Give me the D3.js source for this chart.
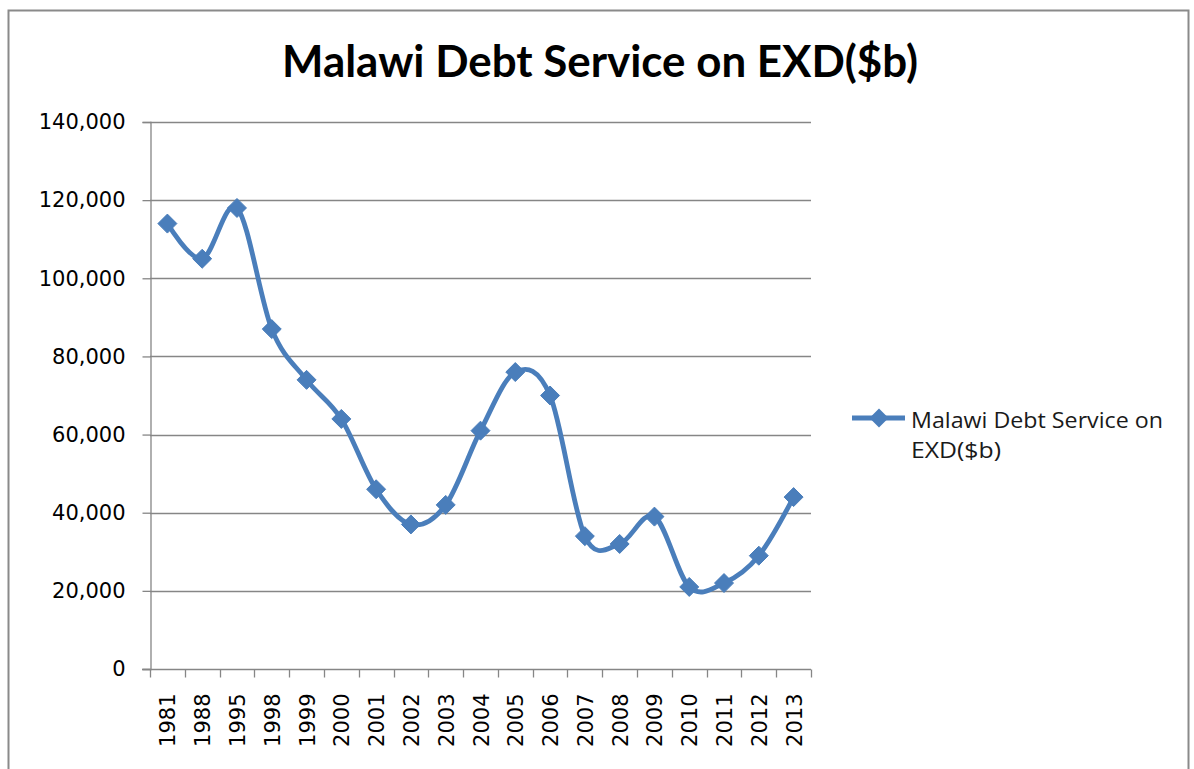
<!DOCTYPE html>
<html>
<head>
<meta charset="utf-8">
<script src="https://cdn.jsdelivr.net/npm/d3@7/dist/d3.min.js"></script>
<style>
  html, body { margin: 0; padding: 0; background: #ffffff; }
  svg { display: block; }
</style>
</head>
<body>
<svg id="chart" width="1194" height="769"></svg>
<script>
// Debt service series, one value per reporting year
const years = ["1981", "1988", "1995", "1998", "1999", "2000", "2001", "2002", "2003", "2004",
               "2005", "2006", "2007", "2008", "2009", "2010", "2011", "2012", "2013"];
const debtService = [114000, 105000, 118000, 87000, 74000, 64000, 46000, 37000, 42000, 61000,
                     76000, 70000, 34000, 32000, 39000, 21000, 22000, 29000, 44000];
const yTicks = [0, 20000, 40000, 60000, 80000, 100000, 120000, 140000];
const seriesName = "Malawi Debt Service on EXD($b)";
const legendLines = ["Malawi Debt Service on", "EXD($b)"];

const svg = d3.select("#chart");
const blue = "#4A7EBB";
const gray = "#868686";
const labelFont = "'DejaVu Sans', Verdana, sans-serif";

// Chart frame
svg.append("rect")
  .attr("x", 8.5).attr("y", 10.5)
  .attr("width", 1180).attr("height", 780)
  .attr("fill", "#ffffff")
  .attr("stroke", "#8a8a8a")
  .attr("stroke-width", 2);

// Title
svg.append("text")
  .attr("x", 600).attr("y", 77)
  .attr("text-anchor", "middle")
  .attr("font-family", "Lato, 'Open Sans', sans-serif")
  .attr("font-weight", "bold")
  .attr("font-size", 44)
  .attr("textLength", 636)
  .attr("lengthAdjust", "spacingAndGlyphs")
  .attr("fill", "#000000")
  .text(seriesName);

const plot = { left: 150, right: 811, top: 122, bottom: 669 };

const x = d3.scaleBand().domain(years).range([plot.left, plot.right]).paddingInner(0).paddingOuter(0);
const y = d3.scaleLinear().domain([0, 140000]).range([plot.bottom, plot.top]);

// Horizontal gridlines
svg.append("g")
  .selectAll("line")
  .data(yTicks.filter(d => d > 0))
  .join("line")
  .attr("x1", plot.left).attr("x2", plot.right)
  .attr("y1", d => Math.round(y(d)) + 0.5).attr("y2", d => Math.round(y(d)) + 0.5)
  .attr("stroke", gray).attr("stroke-width", 1.3);

// Y axis
const yAxis = svg.append("g")
  .attr("transform", `translate(${plot.left + 0.5},0)`)
  .call(d3.axisLeft(y).tickValues(yTicks).tickSize(8).tickPadding(17)
        .tickFormat(d3.format(",")));
yAxis.select(".domain").attr("stroke", gray).attr("stroke-width", 1.3);
yAxis.selectAll(".tick line").attr("stroke", gray).attr("stroke-width", 1.3);
yAxis.selectAll(".tick text")
  .attr("font-family", labelFont).attr("font-size", 21).attr("fill", "#000000");

// X axis: ticks at category boundaries
const xAxisG = svg.append("g").attr("transform", `translate(0,${plot.bottom + 0.5})`);
xAxisG.append("line")
  .attr("x1", plot.left - 8).attr("x2", plot.right)
  .attr("stroke", gray).attr("stroke-width", 1.3);
const boundaries = years.map(d => x(d)).concat([plot.right]);
xAxisG.selectAll("line.tick")
  .data(boundaries)
  .join("line")
  .attr("class", "tick")
  .attr("x1", d => Math.round(d) + 0.5).attr("x2", d => Math.round(d) + 0.5)
  .attr("y1", 0).attr("y2", 8)
  .attr("stroke", gray).attr("stroke-width", 1.3);
xAxisG.selectAll("text")
  .data(years)
  .join("text")
  .attr("transform", d => `translate(${x(d) + x.bandwidth() / 2 + 8},24) rotate(-90)`)
  .attr("text-anchor", "end")
  .attr("font-family", labelFont).attr("font-size", 21).attr("fill", "#000000")
  .text(d => d);

// Smoothed series line
const line = d3.line()
  .x((d, i) => x(years[i]) + x.bandwidth() / 2)
  .y(d => y(d))
  .curve(d3.curveCardinal.tension(0));

svg.append("path")
  .datum(debtService)
  .attr("d", line)
  .attr("fill", "none")
  .attr("stroke", blue)
  .attr("stroke-width", 4.8)
  .attr("stroke-linejoin", "round");

const diamond = d3.symbol().type(d3.symbolDiamond2).size(230);

svg.append("g")
  .selectAll("path")
  .data(debtService)
  .join("path")
  .attr("transform", (d, i) => `translate(${x(years[i]) + x.bandwidth() / 2},${y(d)})`)
  .attr("d", diamond)
  .attr("fill", blue)
  .attr("stroke", blue)
  .attr("stroke-width", 1);

// Legend
const legend = svg.append("g");
legend.append("line")
  .attr("x1", 852).attr("x2", 905)
  .attr("y1", 418).attr("y2", 418)
  .attr("stroke", blue).attr("stroke-width", 4.8);
legend.append("path")
  .attr("transform", "translate(879,418)")
  .attr("d", diamond)
  .attr("fill", blue);
legend.selectAll("text")
  .data(legendLines)
  .join("text")
  .attr("x", 911)
  .attr("y", (d, i) => 428 + i * 30)
  .attr("font-family", "'Open Sans', sans-serif")
  .attr("font-size", 22)
  .attr("textLength", (d, i) => i === 0 ? 252 : 90)
  .attr("lengthAdjust", "spacingAndGlyphs")
  .attr("fill", "#1a1a1a")
  .text(d => d);
</script>
</body>
</html>
